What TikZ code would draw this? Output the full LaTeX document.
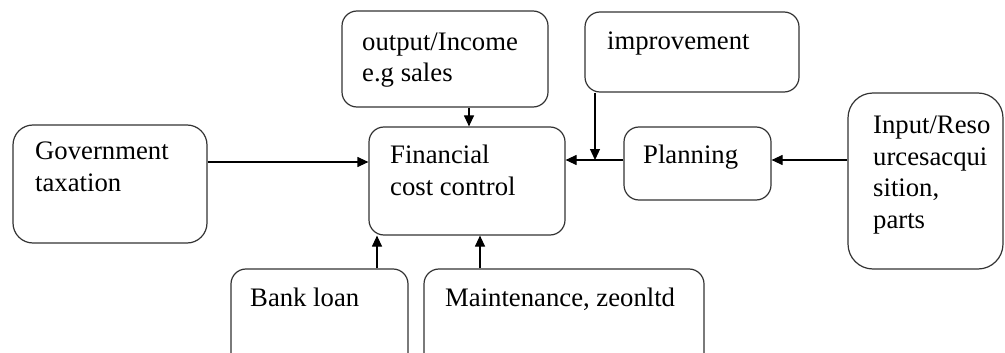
\documentclass[tikz,border=0pt]{standalone}
\usepackage{fontspec}
\setmainfont{Liberation Serif}
\usetikzlibrary{arrows.meta}
\begin{document}
\begin{tikzpicture}[x=1pt,y=-1pt,
  box/.style={draw=black!80, line width=1.2pt, rounded corners=15pt, inner sep=0pt},
  txt/.style={anchor=base west, inner sep=0pt, align=left, font=\fontsize{26.7}{31.5}\selectfont},
  arr/.style={line width=1.2pt, -{Triangle[length=11pt,width=10pt]}},
  ln/.style={line width=1.2pt}]
\useasboundingbox (0,0) rectangle (1005,353);
\begin{scope}
\clip (0,0) rectangle (1005,353);
% boxes
\node[box, rounded corners=20pt, minimum width=194pt, minimum height=118pt] (gov) at (110,184) {};
\node[box, minimum width=196pt, minimum height=108pt] (fin) at (467,181) {};
\node[box, minimum width=206pt, minimum height=96pt] (out) at (445,59) {};
\node[box, minimum width=214pt, minimum height=80pt] (imp) at (692,52) {};
\node[box, minimum width=147pt, minimum height=73pt] (plan) at (697.5,163.5) {};
\node[box, rounded corners=25pt, minimum width=155pt, minimum height=176pt] (inp) at (925.5,181) {};
\node[box, minimum width=177pt, minimum height=120pt] (bank) at (319.5,329) {};
\node[box, minimum width=280pt, minimum height=120pt] (mnt) at (564,329) {};
\end{scope}
% texts (anchor is the baseline of the last line)
\node[txt] (govt) at (35,191) {Government\\taxation};
\node[txt] (fint) at (390,195) {Financial\\cost control};
\node[txt] (outt) at (362,82) {output/Income\\e.g sales};
\node[txt] (impt) at (607,50) {improvement};
\node[txt] (plant) at (643,163) {Planning};
\node[txt] (inpt) at (873,228) {Input/Reso\\urcesacqui\\sition,\\parts};
\node[txt] (bankt) at (250,306) {Bank loan};
\node[txt] (mntt) at (445,306) {Maintenance, zeonltd};
% helper coordinates
\coordinate (ygov) at (0,162);
\coordinate (yplan) at (0,160);
\coordinate (xout) at (469,0);
\coordinate (ximp) at (595,0);
\coordinate (xbank) at (377,0);
\coordinate (xmnt) at (480,0);
\coordinate (join) at (ximp |- yplan);
% connectors
\draw[arr] (gov.east |- ygov) -- (fin.west |- ygov);
\draw[arr] (out.south -| xout) -- (fin.north -| xout);
\draw[arr] (plan.west |- yplan) -- (fin.east |- yplan);
\draw[arr] (imp.south -| ximp) -- (join);
\draw[arr] (inp.west |- yplan) -- (plan.east |- yplan);
\draw[arr] (bank.north -| xbank) -- (fin.south -| xbank);
\draw[arr] (mnt.north -| xmnt) -- (fin.south -| xmnt);
\end{tikzpicture}
\end{document}
